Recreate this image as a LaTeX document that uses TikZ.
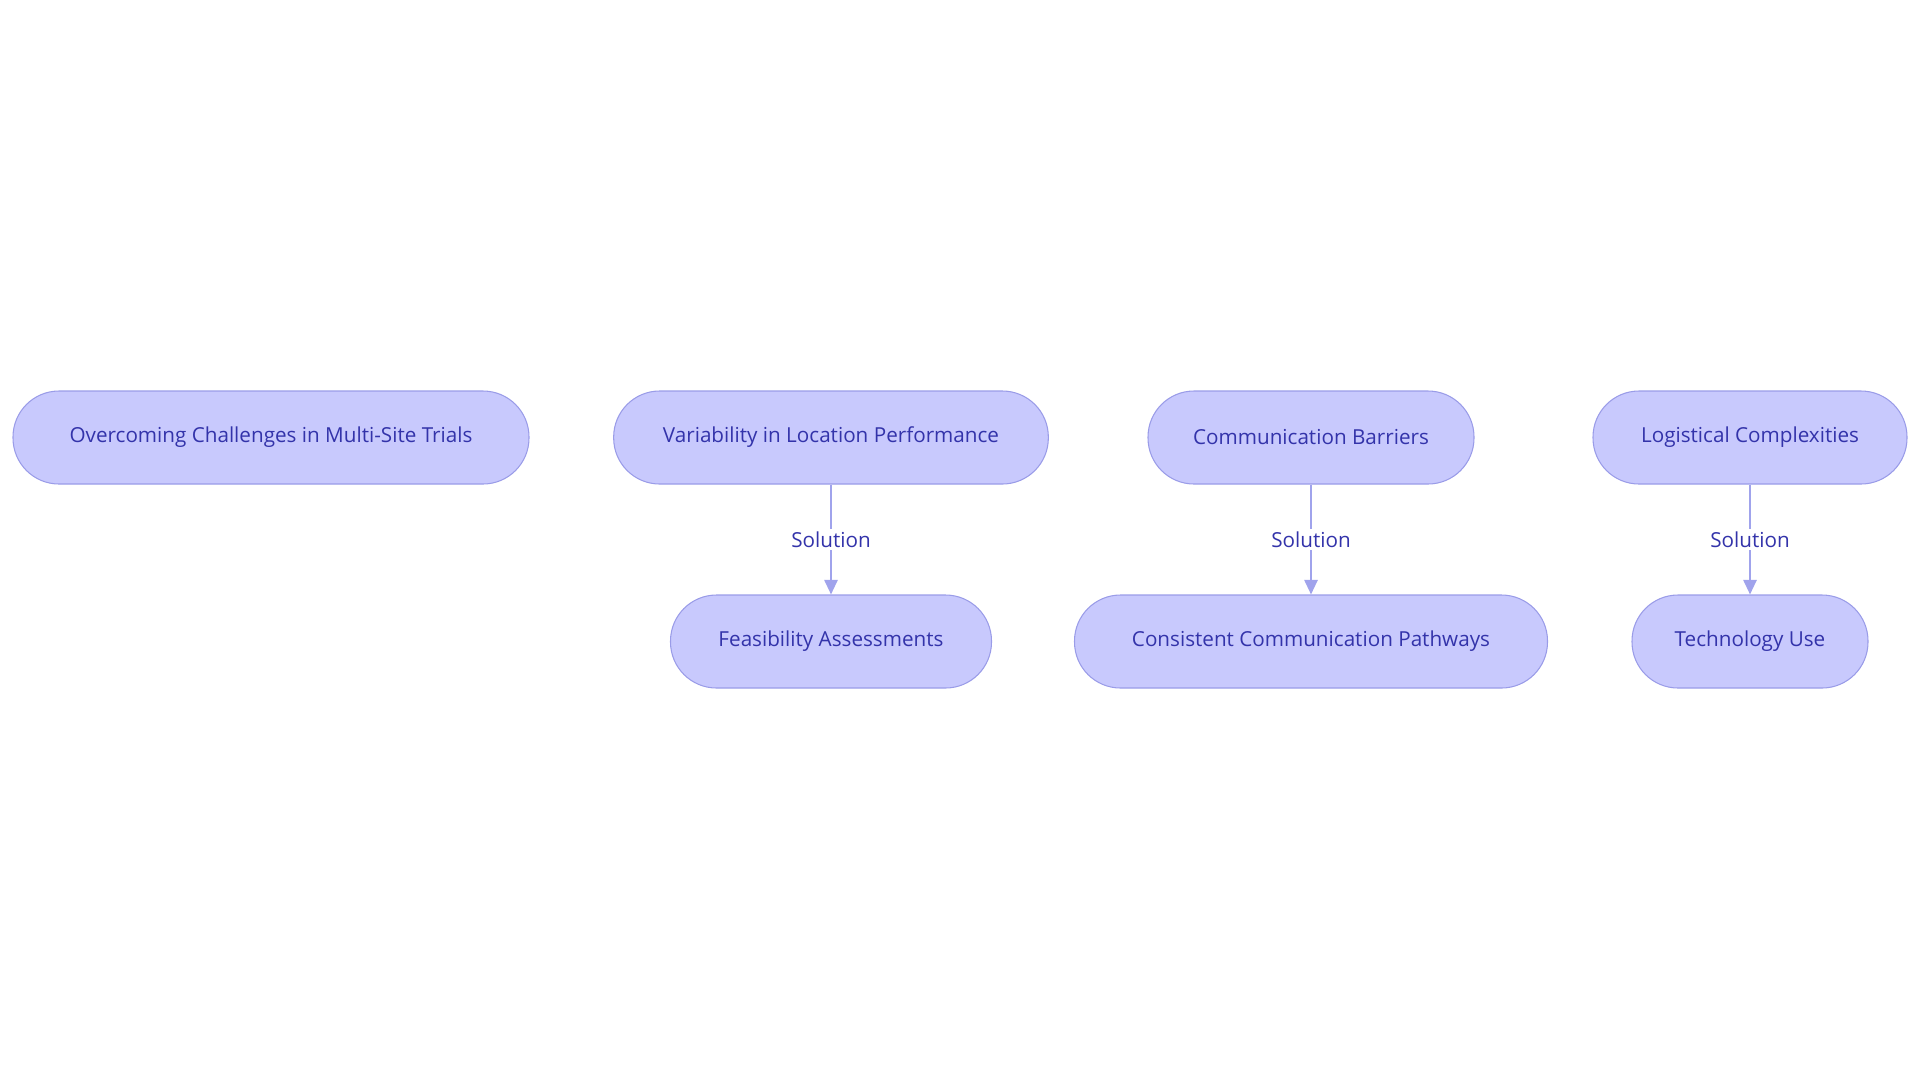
\documentclass[tikz,border=0pt]{standalone}
\usepackage{fontspec}
\setmainfont{Open Sans}
\usetikzlibrary{arrows.meta}
\definecolor{nfill}{HTML}{C8C9FD}
\definecolor{nline}{HTML}{9A9CE8}
\definecolor{ntext}{HTML}{3333AA}
\definecolor{aline}{HTML}{A0A3EC}
\begin{document}
\begin{tikzpicture}[x=0.75pt,y=-0.75pt,
 box/.style={draw=nline,fill=nfill,rounded corners=34.5pt,minimum height=69.75pt,line width=0.8pt,text=ntext,font=\fontsize{15.5}{18}\selectfont,inner sep=0pt},
 arr/.style={draw=aline,line width=1.5pt,-{Triangle[length=11pt,width=10pt]}},
 lab/.style={fill=white,text=ntext,font=\fontsize{15.5}{18}\selectfont,inner sep=2pt}]
\useasboundingbox (0,0) rectangle (1920,1083);
\node[box,minimum width=387pt] (a) at (271,437.5) {Overcoming Challenges in Multi-Site Trials};
\node[box,minimum width=326pt] (b) at (831,437.5) {Variability in Location Performance};
\node[box,minimum width=244.5pt] (c) at (1311,437.5) {Communication Barriers};
\node[box,minimum width=235.5pt] (d) at (1750,437.5) {Logistical Complexities};
\node[box,minimum width=240.75pt] (e) at (831,641.5) {Feasibility Assessments};
\node[box,minimum width=354.75pt] (f) at (1311,641.5) {Consistent Communication Pathways};
\node[box,minimum width=177pt] (g) at (1750,641.5) {Technology Use};
\draw[arr] (b) -- node[lab] {Solution} (e);
\draw[arr] (c) -- node[lab] {Solution} (f);
\draw[arr] (d) -- node[lab] {Solution} (g);
\end{tikzpicture}
\end{document}
